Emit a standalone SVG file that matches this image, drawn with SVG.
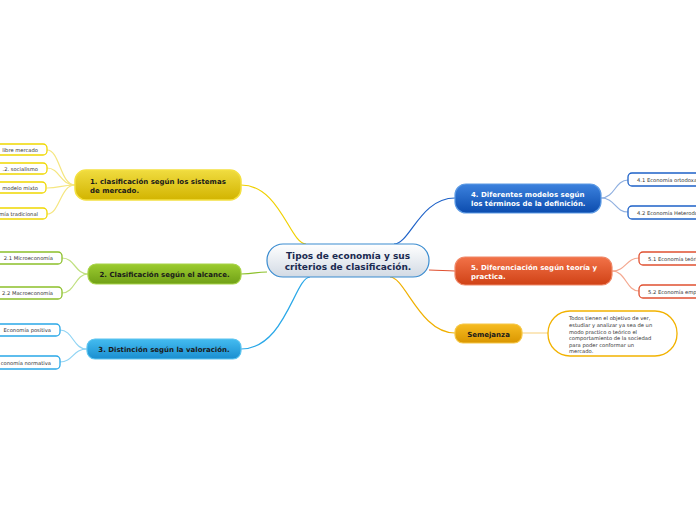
<svg xmlns="http://www.w3.org/2000/svg" width="696" height="520" viewBox="0 0 696 520">
<defs>
<linearGradient id="gC" x1="0" y1="0" x2="0" y2="1"><stop offset="0" stop-color="#ffffff"/><stop offset="1" stop-color="#d2dae4"/></linearGradient>
<linearGradient id="gY" x1="0" y1="0" x2="0" y2="1"><stop offset="0" stop-color="#f0dc40"/><stop offset="1" stop-color="#d2b400"/></linearGradient>
<linearGradient id="gG" x1="0" y1="0" x2="0" y2="1"><stop offset="0" stop-color="#9ccc30"/><stop offset="1" stop-color="#70a016"/></linearGradient>
<linearGradient id="gB" x1="0" y1="0" x2="0" y2="1"><stop offset="0" stop-color="#44bcf0"/><stop offset="1" stop-color="#1a8ed0"/></linearGradient>
<linearGradient id="gD" x1="0" y1="0" x2="0" y2="1"><stop offset="0" stop-color="#3c82de"/><stop offset="1" stop-color="#0c4cae"/></linearGradient>
<linearGradient id="gO" x1="0" y1="0" x2="0" y2="1"><stop offset="0" stop-color="#f27248"/><stop offset="1" stop-color="#d04216"/></linearGradient>
<linearGradient id="gA" x1="0" y1="0" x2="0" y2="1"><stop offset="0" stop-color="#f6bc22"/><stop offset="1" stop-color="#da9600"/></linearGradient>
</defs>
<style>
text{font-family:"DejaVu Sans","Verdana",sans-serif;}
.t{font-weight:bold;font-size:7px;fill:#1a1a1a;}
.tw{font-weight:bold;font-size:7px;fill:#ffffff;}
.leaf{fill:#ffffff;stroke-width:1.3;}
.lt{font-size:5.2px;fill:#333333;}
.c{fill:none;stroke-width:1.2;}
</style>
<rect width="696" height="520" fill="#ffffff"/>
<g id="connectors">
<path class="c" stroke="#f0d000" d="M241,185 C280,185 290,244 306,244"/>
<path class="c" stroke="#8cc02a" d="M241,274 C255,274 255,272 267,272"/>
<path class="c" stroke="#2aa8e8" d="M241,349 C285,349 295,277 310,277"/>
<path class="c" stroke="#1e62c8" d="M394,244 C410,244 420,198 455,198"/>
<path class="c" stroke="#e05030" d="M429,270 C440,270 445,271 455,271"/>
<path class="c" stroke="#f0b000" d="M390,277 C405,277 420,333 455,333"/>
<path class="c" stroke="#f8d890" d="M522,333 L548,333"/>
<g stroke="#f5e680" class="c" stroke-width="0.9">
<path d="M75,185 C60,185 60,150 47,150"/>
<path d="M75,185 C60,185 60,168 47,168"/>
<path d="M75,185 C60,185 60,188 47,188"/>
<path d="M75,185 C60,185 60,214 47,214"/>
</g>
<g stroke="#c0e080" class="c" stroke-width="0.9">
<path d="M88,274 C75,274 75,258 62,258"/>
<path d="M88,274 C75,274 75,293 62,293"/>
</g>
<g stroke="#90d4f4" class="c" stroke-width="0.9">
<path d="M87,349 C73,349 73,330 60,330"/>
<path d="M87,349 C73,349 73,362 60,362"/>
</g>
<g stroke="#90b0e0" class="c" stroke-width="0.9">
<path d="M601,198 C615,198 615,180 628,180"/>
<path d="M601,198 C615,198 615,212 628,212"/>
</g>
<g stroke="#f4a890" class="c" stroke-width="0.9">
<path d="M612,271 C626,271 626,258 639,258"/>
<path d="M612,271 C626,271 626,291 639,291"/>
</g>
</g>
<g id="center">
<rect x="267" y="244" width="162" height="33" rx="16" fill="url(#gC)" stroke="#3a8cd0" stroke-width="1.2"/>
<text x="348" y="259" text-anchor="middle" font-weight="bold" font-size="9" fill="#1a2a50">Tipos de economía y sus</text>
<text x="348" y="270" text-anchor="middle" font-weight="bold" font-size="9" fill="#1a2a50">criterios de clasificación.</text>
</g>
<g id="n1">
<rect x="75" y="170" width="166" height="30" rx="11" fill="url(#gY)" stroke="#f4e040" stroke-width="1.5"/>
<text class="t" x="90" y="184">1. clasificación según los sistemas</text>
<text class="t" x="90" y="193">de mercado.</text>
</g>
<g id="n2">
<rect x="88" y="264" width="153" height="20" rx="8" fill="url(#gG)" stroke="#a8d448" stroke-width="1.2"/>
<text class="t" x="164.5" y="276.5" text-anchor="middle">2. Clasificación según el alcance.</text>
</g>
<g id="n3">
<rect x="87" y="339" width="154" height="20" rx="8" fill="url(#gB)" stroke="#5cc4f0" stroke-width="1.2"/>
<text class="t" x="164" y="351.5" text-anchor="middle">3. Distinción según la valoración.</text>
</g>
<g id="n4">
<rect x="455" y="184" width="146" height="29" rx="11" fill="url(#gD)" stroke="#5c9ae4" stroke-width="1.2"/>
<text class="tw" x="471" y="197">4. Diferentes modelos según</text>
<text class="tw" x="471" y="206">los términos de la definición.</text>
</g>
<g id="n5">
<rect x="455" y="257" width="157" height="28" rx="10" fill="url(#gO)" stroke="#f08868" stroke-width="1.2"/>
<text class="tw" x="471" y="270">5. Diferenciación según teoría y</text>
<text class="tw" x="471" y="279">practica.</text>
</g>
<g id="n6">
<rect x="455" y="324" width="67" height="19" rx="8" fill="url(#gA)" stroke="#f6c848" stroke-width="1.2"/>
<text class="t" x="488.5" y="336.5" text-anchor="middle">Semejanza</text>
</g>
<g id="n6a">
<rect x="548" y="311" width="129" height="45" rx="22" fill="#ffffff" stroke="#f2b200" stroke-width="1.3"/>
<text class="lt" x="569" y="320">Todos tienen el objetivo de ver,</text>
<text class="lt" x="569" y="327">estudiar y analizar ya sea de un</text>
<text class="lt" x="569" y="333.5">modo practico o teórico el</text>
<text class="lt" x="569" y="340">comportamiento de la sociedad</text>
<text class="lt" x="569" y="346.5">para poder conformar un</text>
<text class="lt" x="569" y="353">mercado.</text>
</g>
<g id="l11"><rect class="leaf" x="-40" y="144" width="87" height="11" rx="4" stroke="#f0d800"/><text class="lt" x="38" y="151.5" text-anchor="end">libre mercado</text></g>
<g id="l12"><rect class="leaf" x="-40" y="163" width="87" height="11" rx="4" stroke="#f0d800"/><text class="lt" x="38" y="170.5" text-anchor="end">.2. socialismo</text></g>
<g id="l13"><rect class="leaf" x="-40" y="182" width="86" height="11" rx="4" stroke="#f0d800"/><text class="lt" x="38" y="189.5" text-anchor="end">modelo mixto</text></g>
<g id="l14"><rect class="leaf" x="-40" y="208" width="87" height="11" rx="4" stroke="#f0d800"/><text class="lt" x="38" y="215.5" text-anchor="end">mía tradicional</text></g>
<g id="l21"><rect class="leaf" x="-40" y="252" width="102" height="12" rx="4" stroke="#8cc02a"/><text class="lt" x="53" y="260" text-anchor="end">2.1 Microeconomía</text></g>
<g id="l22"><rect class="leaf" x="-40" y="287" width="102" height="12" rx="4" stroke="#8cc02a"/><text class="lt" x="53" y="295" text-anchor="end">2.2 Macroeconomía</text></g>
<g id="l31"><rect class="leaf" x="-40" y="324" width="100" height="12" rx="4" stroke="#2aa8e8"/><text class="lt" x="51" y="332" text-anchor="end">Economía positiva</text></g>
<g id="l32"><rect class="leaf" x="-40" y="356" width="100" height="13" rx="4" stroke="#2aa8e8"/><text class="lt" x="51" y="364.5" text-anchor="end">conomía normativa</text></g>
<g id="l41"><rect class="leaf" x="628" y="173" width="110" height="13" rx="4" stroke="#1e62c8"/><text class="lt" x="637" y="181.5">4.1 Economía ortodoxa</text></g>
<g id="l42"><rect class="leaf" x="628" y="206" width="110" height="13" rx="4" stroke="#1e62c8"/><text class="lt" x="637" y="214.5">4.2 Economía Heterodoxa</text></g>
<g id="l51"><rect class="leaf" x="639" y="252" width="110" height="13" rx="4" stroke="#e05030"/><text class="lt" x="648" y="260.5">5.1 Economía teórica</text></g>
<g id="l52"><rect class="leaf" x="639" y="285" width="110" height="13" rx="4" stroke="#e05030"/><text class="lt" x="648" y="293.5">5.2 Economía empírica</text></g>
</svg>
